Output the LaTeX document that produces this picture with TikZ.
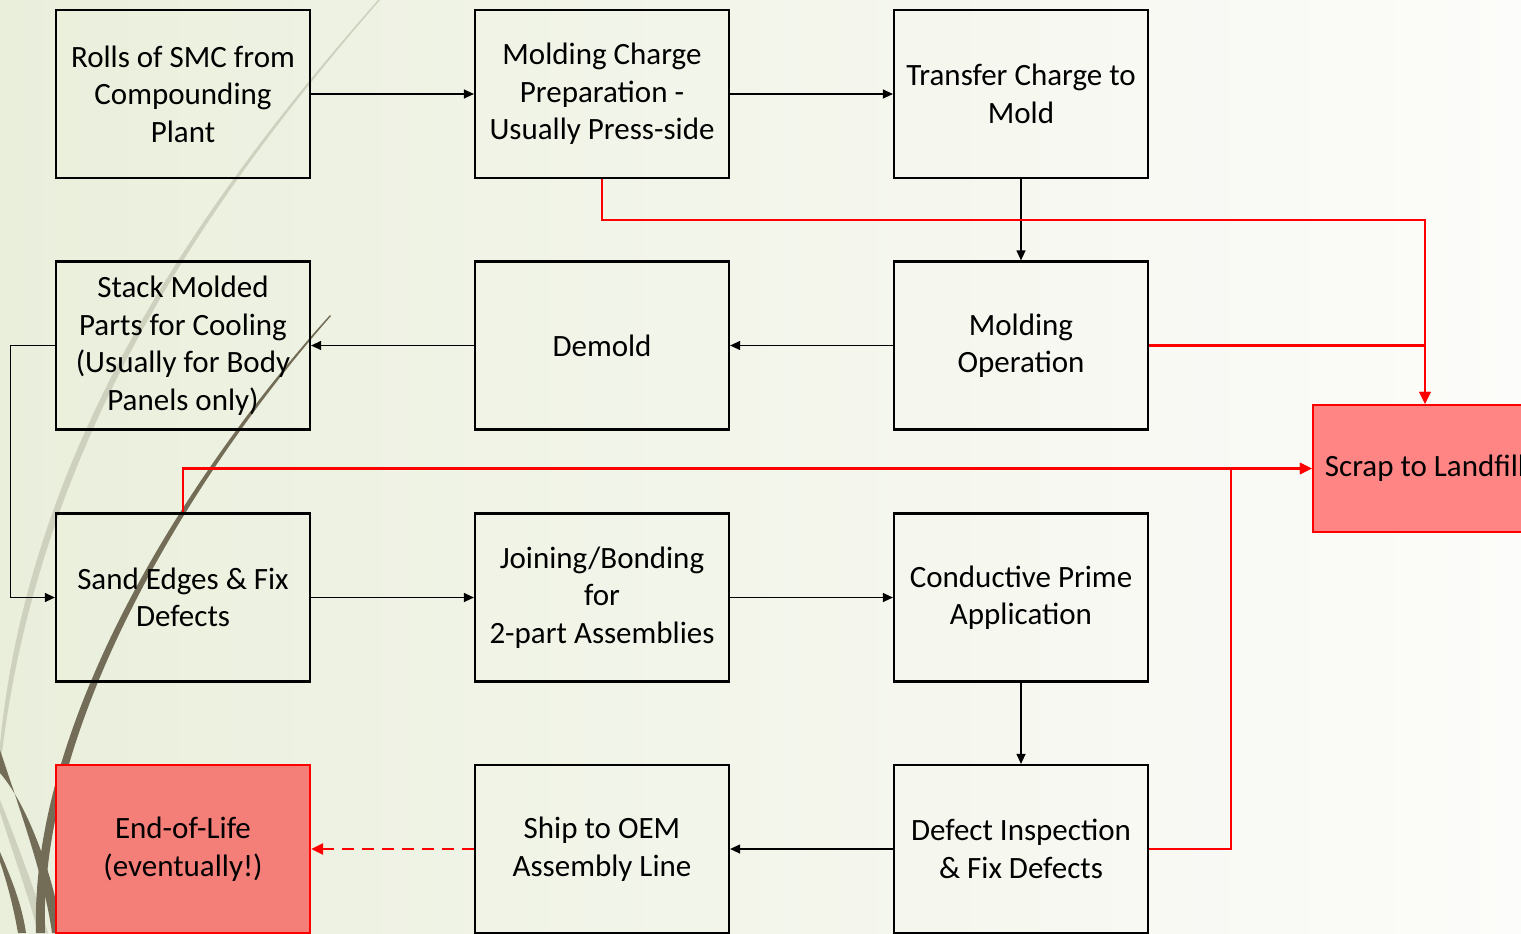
\documentclass[tikz,border=0pt]{standalone}
\usepackage{fontspec}
\setmainfont{Carlito}
\usetikzlibrary{arrows.meta,calc}
\definecolor{bgL}{HTML}{EAEFDC}
\definecolor{bgM}{HTML}{F7F8F2}
\definecolor{bgR}{HTML}{FCFCFA}
\definecolor{lightcurve}{HTML}{CED1BE}
\definecolor{darkcurve}{HTML}{736D57}
\definecolor{eolfill}{HTML}{F47E78}
\definecolor{scrapfill}{HTML}{FF8585}
\definecolor{redline}{HTML}{FF0000}
\begin{document}
\begin{tikzpicture}[x=1bp,y=-1bp,
  box/.style={draw=black,line width=2.2bp,minimum width=254bp,minimum height=168bp,
    inner sep=0pt,align=center,font=\fontsize{31bp}{37.5bp}\selectfont,text=black},
  redbox/.style={box,draw=redline,fill=eolfill},
  conn/.style={draw=black,line width=1.2bp,-{Triangle[length=10bp,width=9bp]}},
  rconn/.style={draw=redline,line width=2.4bp,-{Triangle[length=12bp,width=11bp]}},
  rline/.style={draw=redline,line width=2.4bp},
  rdash/.style={draw=redline,line width=2.4bp,dash pattern=on 12bp off 8bp,-{Triangle[length=12bp,width=11bp]}}]
\useasboundingbox (0,0) rectangle (1521,933);
\clip (0,0) rectangle (1521,933);
% background
\shade[left color=bgL,middle color=bgM,right color=bgR] (0,0) rectangle (1521,933);
% decorative curves
\fill[lightcurve] (378,0) .. controls (220,180) and (30,430) .. (0,745) -- (0,770) .. controls (36,432) and (222,182) .. (380,0) -- cycle;
\fill[lightcurve] (0,812) .. controls (15,860) and (30,900) .. (38,933) -- (48,933) .. controls (38,900) and (20,850) .. (0,800) -- cycle;
\fill[darkcurve] (0,750) .. controls (20,810) and (45,880) .. (52,933) -- (62,933) .. controls (55,880) and (28,805) .. (0,773) -- cycle;
\fill[darkcurve] (0,862) .. controls (8,885) and (14,910) .. (18,933) -- (26,933) .. controls (22,905) and (12,880) .. (0,852) -- cycle;
\fill[darkcurve] (330,315) .. controls (190,470) and (30,720) .. (36,933) -- (45,933) .. controls (38,722) and (194,472) .. (331,316) -- cycle;
% nodes
\node[box] (rolls) at (183,94) {Rolls of SMC from\\Compounding\\Plant};
\node[box] (charge) at (602,94) {Molding Charge\\Preparation -\\Usually Press-side};
\node[box] (transfer) at (1021,94) {Transfer Charge to\\Mold};
\node[box] (stack) at (183,345.5) {Stack Molded\\Parts for Cooling\\(Usually for Body\\Panels only)};
\node[box] (demold) at (602,345.5) {Demold};
\node[box] (oper) at (1021,345.5) {Molding\\Operation};
\node[box] (sand) at (183,597.5) {Sand Edges \& Fix\\Defects};
\node[box] (join) at (602,597.5) {Joining/Bonding\\for\\2-part Assemblies};
\node[box] (cond) at (1021,597.5) {Conductive Prime\\Application};
\node[redbox] (eol) at (183,849) {End-of-Life\\(eventually!)};
\node[box] (ship) at (602,849) {Ship to OEM\\Assembly Line};
\node[box] (defect) at (1021,849) {Defect Inspection\\\& Fix Defects};
\node[box,draw=redline,fill=scrapfill,minimum width=224bp,minimum height=127bp] (scrap) at (1425,468.5) {Scrap to Landfill};
% black connectors
\draw[conn] (rolls.east) -- (charge.west);
\draw[conn] (charge.east) -- (transfer.west);
\draw[conn] (transfer.south) -- (oper.north);
\draw[conn] (oper.west) -- (demold.east);
\draw[conn] (demold.west) -- (stack.east);
\draw[conn] (stack.west) -- ++(-44,0) |- (sand.west);
\draw[conn] (sand.east) -- (join.west);
\draw[conn] (join.east) -- (cond.west);
\draw[conn] (cond.south) -- (defect.north);
\draw[conn] (defect.west) -- (ship.east);
% red connectors
\draw[rdash] (ship.west) -- (eol.east);
\draw[rconn] (charge.south) -- ++(0,41) -| (scrap.north);
\draw[rconn] (oper.east) -| (scrap.north);
\draw[rconn] (sand.north) |- (scrap.west);
\draw[rconn] (defect.east) -- ++(82,0) |- (scrap.west);
\end{tikzpicture}
\end{document}
